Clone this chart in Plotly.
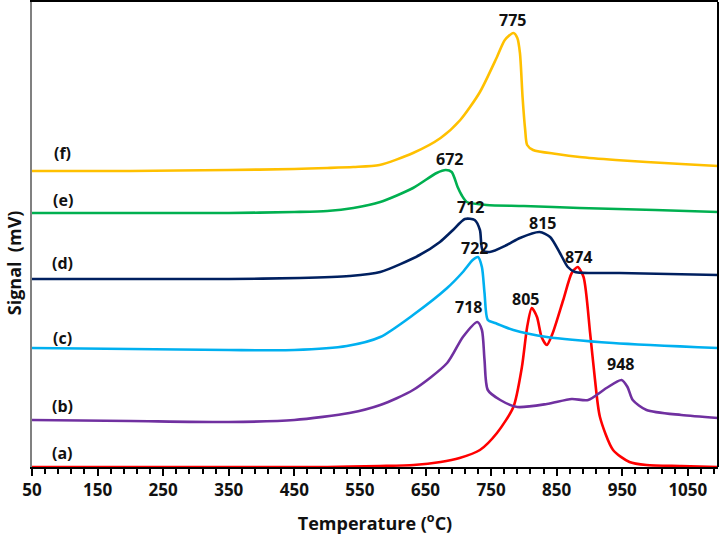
import plotly.graph_objects as go

# Temperature (°C) and signal (arbitrary mV offset units) for each TPR profile
T_a = [50, 300, 500, 580, 632, 673, 702, 733, 759, 784, 797, 805, 812, 820, 827, 835, 844, 860, 873, 882, 891, 901, 908, 916, 936, 961, 987, 1040, 1096]
S_a = [0, 0, 0, 1, 2, 5, 9, 17, 34, 60, 100, 140, 159, 150, 130, 122, 134, 167, 194, 200, 190, 134, 90, 50, 17, 5, 2, 1, 0]

T_b = [50, 200, 350, 450, 534, 581, 631, 683, 707, 729, 736, 740, 745, 764, 790, 835, 873, 898, 926, 949, 958, 966, 987, 1040, 1096]
S_b = [47, 46, 45, 47, 54, 62, 77, 104, 130, 145, 137, 107, 77, 67, 60, 63, 68, 67, 79, 87, 80, 67, 57, 52, 49]

T_c = [50, 200, 350, 450, 530, 581, 631, 683, 707, 722, 730, 736, 740, 745, 756, 784, 835, 936, 1096]
S_c = [119, 118, 117, 117, 121, 130, 152, 179, 195, 207, 210, 200, 174, 147, 144, 137, 130, 124, 119]

T_d = [50, 200, 350, 458, 534, 581, 641, 672, 692, 710, 725, 733, 737, 748, 774, 794, 824, 840, 855, 867, 878, 946, 1096]
S_d = [188, 188, 188, 189, 191, 195, 212, 225, 237, 248, 247, 237, 217, 215, 222, 229, 235, 230, 214, 200, 195, 194, 192]

T_e = [50, 200, 350, 450, 500, 540, 581, 631, 667, 681, 690, 699, 705, 713, 743, 800, 885, 1000, 1096]
S_e = [254, 254, 254, 255, 256, 259, 265, 279, 294, 297, 295, 280, 272, 265, 262, 261, 259, 257, 255]

T_f = [50, 200, 350, 450, 500, 540, 580, 631, 673, 703, 733, 759, 771, 784, 790, 794, 798, 802, 805, 814, 850, 885, 940, 987, 1040, 1096]
S_f = [296, 296, 297, 298, 299, 300, 302, 314, 329, 347, 375, 410, 427, 434, 429, 414, 370, 337, 322, 317, 313, 310, 307, 305, 303, 301]

series = [
    ("(a)", T_a, S_a, "#FF0000"),
    ("(b)", T_b, S_b, "#7030A0"),
    ("(c)", T_c, S_c, "#00B0F0"),
    ("(d)", T_d, S_d, "#002060"),
    ("(e)", T_e, S_e, "#00B050"),
    ("(f)", T_f, S_f, "#FFC000"),
]

# Peak labels
peak_text = ["775", "672", "712", "815", "874", "722", "718", "805", "948"]
peak_x = [783, 687, 718, 829, 884, 724, 715, 803, 948]
peak_y = [447, 308, 260, 244, 210, 219, 160, 168, 103]

# Curve labels
curve_lbl_x = 97
curve_lbl_y = [14, 61, 129, 204, 267, 314]

x_ticks = list(range(50, 1051, 100))

fig = go.Figure()
for name, t, s, col in series:
    fig.add_trace(go.Scatter(x=t, y=s, mode="lines", name=name,
                             line=dict(color=col, width=2.6, shape="spline", smoothing=0.7),
                             showlegend=False, hoverinfo="skip"))

ann = []
for txt, x, y in zip(peak_text, peak_x, peak_y):
    ann.append(dict(x=x, y=y, xref="x", yref="y", text=txt, showarrow=False,
                    font=dict(family="Open Sans", size=16, color="#111111", weight="bold")))
for (name, _, _, _), y in zip(series, curve_lbl_y):
    ann.append(dict(x=curve_lbl_x, y=y, xref="x", yref="y", text=name, showarrow=False,
                    font=dict(family="Open Sans", size=16, color="#111111", weight="bold")))
ann.append(dict(x=-0.025, y=0.44, xref="paper", yref="paper", text="Signal  (mV)",
                textangle=-90, showarrow=False, xanchor="center", yanchor="middle",
                font=dict(family="Open Sans", size=18, color="#111111", weight="bold")))

fig.update_layout(
    width=721, height=545,
    margin=dict(l=32, r=3, t=2, b=78),
    paper_bgcolor="white", plot_bgcolor="white",
    annotations=ann,
    xaxis=dict(range=[50, 1096], tickvals=x_ticks, ticks="outside", ticklen=7, tickwidth=1.5,
               tickcolor="black", showline=True, linecolor="black", linewidth=2, mirror=True,
               showgrid=False, zeroline=False, automargin=False,
               minor=dict(dtick=20, tick0=50, ticks="outside", ticklen=5, tickwidth=1.5, tickcolor="black"),
               tickfont=dict(family="Open Sans", size=17, color="#111111", weight="bold"),
               title=dict(text="Temperature (<sup>o</sup>C)", standoff=17,
                          font=dict(family="Open Sans", size=18, color="#111111", weight="bold"))),
    yaxis=dict(range=[0, 465], showticklabels=False, ticks="", showgrid=False, zeroline=False,
               showline=True, linecolor="#808080", linewidth=2, automargin=False),
    shapes=[dict(type="line", xref="paper", yref="paper", x0=1, x1=1, y0=0, y1=1,
                 line=dict(color="black", width=2))],
)

fig.write_html("out.html", config={"displayModeBar": False},
               post_script="document.body.style.margin='0';document.body.style.padding='0';"
                           "document.documentElement.style.overflow='hidden';")
